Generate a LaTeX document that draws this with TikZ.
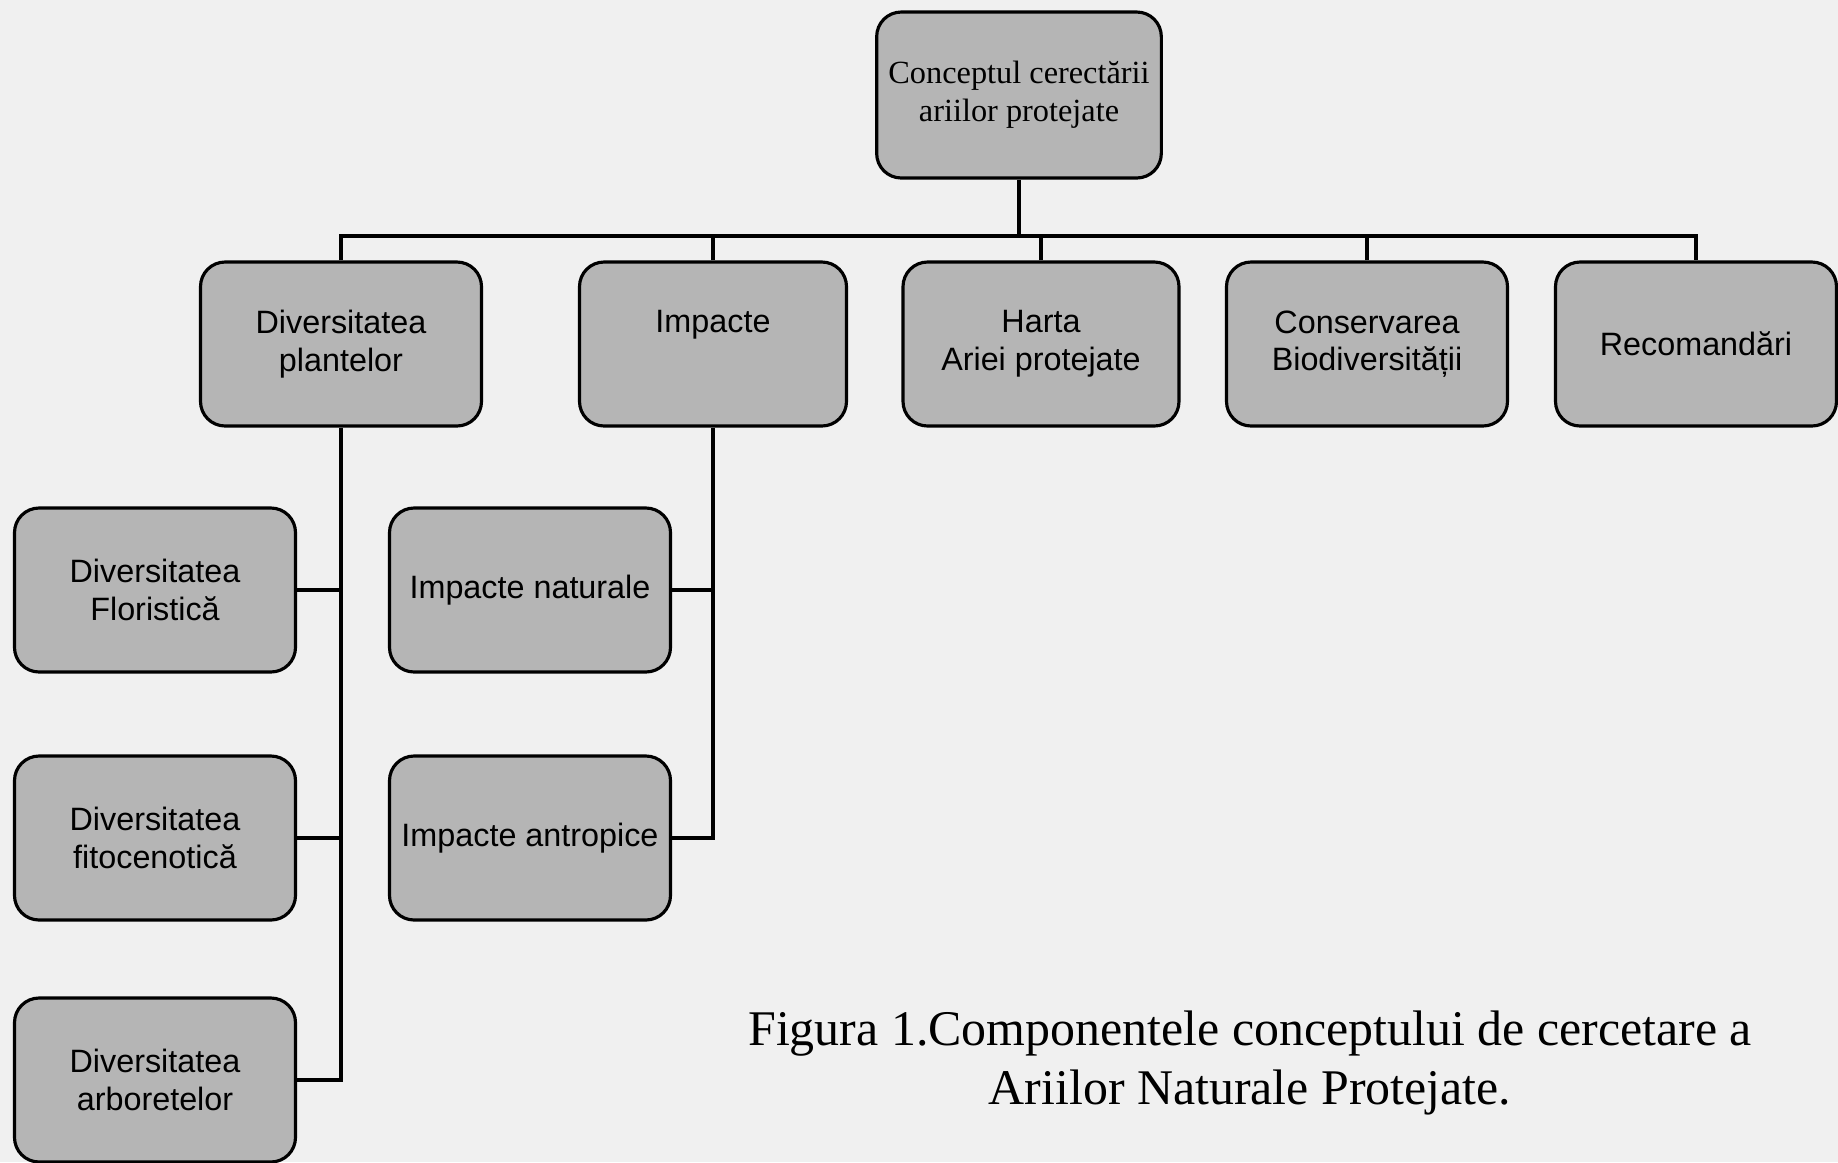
\documentclass[tikz,border=0pt]{standalone}
\usepackage{fontspec}
\setmainfont{Liberation Serif}
\setsansfont{Liberation Sans}
\tikzset{box/.style = {draw, line width=0.9pt, rounded corners=7pt, fill=gray!58,
                       minimum width=2.81cm, minimum height=1.64cm, align=center,
                       font=\sffamily\fontsize{9.2}{10.7}\selectfont}}
\tikzset{link/.style = {line width=1.2pt}}

\begin{document}
\begin{tikzpicture}
\fill[gray!12] (0,0) rectangle (18.38,-11.62);
\useasboundingbox (0,0) rectangle (18.38,-11.62);
% top
\node[box, minimum width=2.76cm, minimum height=1.66cm,
      font=\rmfamily\fontsize{9.2}{10.7}\selectfont] (concept) at (10.19,-0.95) {Conceptul cerectării\\ ariilor protejate};
% second row
\node[box] (plante) at (3.41,-3.44) {Diversitatea\\ plantelor};
\node[box, minimum width=2.67cm] (impacte) at (7.13,-3.44) {Impacte\\ \phantom{plantelor}};
\node[box, minimum width=2.76cm] (harta) at (10.41,-3.44) {Harta\\ Ariei protejate};
\node[box] (conservare) at (13.67,-3.44) {Conservarea\\ Biodiversității};
\node[box] (recomandari) at (16.96,-3.44) {Recomandări};
% columns
\node[box] (floristica) at (1.55,-5.90) {Diversitatea\\ Floristică};
\node[box] (fitocenotica) at (1.55,-8.38) {Diversitatea\\ fitocenotică};
\node[box] (arboretelor) at (1.55,-10.80) {Diversitatea\\ arboretelor};
\node[box] (impnaturale) at (5.30,-5.90) {Impacte naturale};
\node[box] (impantropice) at (5.30,-8.38) {Impacte antropice};
% caption
\node[font=\rmfamily\fontsize{14.2}{16.8}\selectfont, align=center] (caption) at (12.50,-10.63)
  {Figura 1.Componentele conceptului de cercetare a\\ Ariilor Naturale Protejate.};
% connectors
\coordinate (bus) at (10.17,-2.36);
\draw[link] (concept) -- (concept |- bus);
\draw[link] (plante.north) -- (plante.north |- bus) -- (recomandari.north |- bus) -- (recomandari.north);
\foreach \n in {impacte, harta, conservare}
  \draw[link] (\n.north) -- (\n.north |- bus);
\draw[link] (plante.south) |- (arboretelor.east);
\draw[link] (floristica.east) -- (floristica.east -| plante.south);
\draw[link] (fitocenotica.east) -- (fitocenotica.east -| plante.south);
\draw[link] (impacte.south) |- (impantropice.east);
\draw[link] (impnaturale.east) -- (impnaturale.east -| impacte.south);
\end{tikzpicture}
\end{document}
